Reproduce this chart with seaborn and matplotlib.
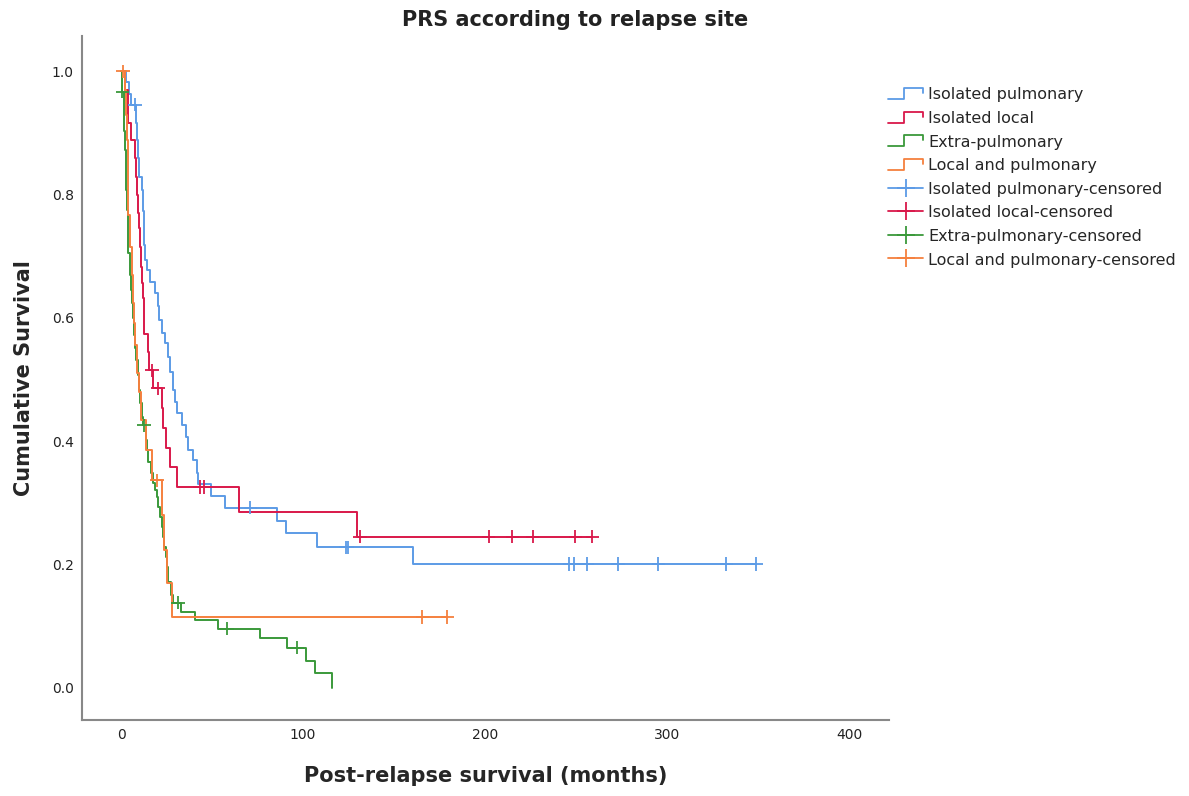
"""
Curvas Kaplan-Meier: PRS segun sitio de recaida
"""

import numpy as np
import pandas as pd
import matplotlib
matplotlib.use('Agg')
import matplotlib.pyplot as plt
import seaborn as sns
from matplotlib.lines import Line2D
from matplotlib.legend_handler import HandlerBase

# Grupos y colores
grupos = ['Isolated pulmonary', 'Isolated local', 'Extra-pulmonary', 'Local and pulmonary']
colores = ['#5c9be6', '#d9184a', '#3a993a', '#f5803e']

# Tiempos de evento (meses) y supervivencia acumulada despues de cada evento
pulm_t = [2.7, 4.4, 5.5, 8.2, 8.8, 9.3, 9.9, 11.5, 12.1, 12.4, 12.6, 13.2, 14.3, 15.9,
          18.7, 20.3, 20.6, 22.5, 24.2, 25.8, 26.9, 28.6, 29.7, 30.8, 33.5, 35.7, 36.8,
          39.6, 41.8, 42.3, 49.5, 57.1, 85.7, 90.7, 107.7, 160.4]
pulm_s = [0.982, 0.964, 0.946, 0.917, 0.888, 0.859, 0.828, 0.807, 0.774, 0.746, 0.718,
          0.694, 0.678, 0.658, 0.640, 0.620, 0.596, 0.575, 0.559, 0.536, 0.512, 0.483,
          0.463, 0.446, 0.426, 0.407, 0.386, 0.370, 0.349, 0.331, 0.311, 0.292, 0.271,
          0.251, 0.228, 0.201]
pulm_cens = [7.7, 70.9, 123.5, 124.5, 246.2, 248.9, 256.0, 273.0, 295.0, 332.4, 348.9]

local_t = [2.2, 3.8, 4.1, 5.5, 7.7, 8.2, 8.8, 9.1, 9.9, 10.4, 11.0, 11.5, 12.1, 12.6,
           12.9, 14.8, 15.4, 17.6, 22.5, 23.1, 24.7, 26.9, 30.8, 64.8, 129.7]
local_s = [0.969, 0.943, 0.916, 0.888, 0.859, 0.828, 0.799, 0.771, 0.746, 0.715, 0.682,
           0.656, 0.632, 0.601, 0.574, 0.545, 0.515, 0.486, 0.454, 0.421, 0.389, 0.358,
           0.326, 0.285, 0.245]
local_cens = [17.0, 20.3, 43.4, 45.6, 131.3, 202.0, 215.0, 226.0, 249.5, 258.8]

extra_t = [0.3, 1.6, 1.9, 2.2, 2.7, 3.0, 3.3, 3.8, 4.1, 4.9, 5.5, 6.0, 6.6, 7.1, 7.7,
           8.2, 9.3, 9.9, 10.4, 11.5, 12.1, 13.7, 14.3, 14.8, 16.5, 17.6, 18.7, 19.8,
           20.3, 21.4, 22.5, 23.1, 23.6, 24.7, 25.3, 25.8, 27.5, 28.6, 33.0, 40.7, 53.3,
           76.4, 91.2, 101.6, 106.6, 115.9]
extra_s = [0.967, 0.937, 0.904, 0.872, 0.840, 0.807, 0.775, 0.742, 0.705, 0.669, 0.645,
           0.624, 0.600, 0.572, 0.551, 0.532, 0.507, 0.483, 0.462, 0.439, 0.426, 0.402,
           0.386, 0.366, 0.348, 0.332, 0.321, 0.310, 0.293, 0.277, 0.261, 0.245, 0.229,
           0.212, 0.196, 0.172, 0.151, 0.138, 0.123, 0.110, 0.096, 0.081, 0.065, 0.044,
           0.024, 0.0]
extra_cens = [0.6, 12.6, 31.3, 58.2, 96.7]

lp_t = [2.2, 2.7, 3.3, 3.6, 3.8, 4.1, 4.9, 6.0, 6.6, 7.1, 7.7, 8.8, 9.9, 11.0, 13.7,
        17.0, 22.5, 23.6, 25.3, 28.0]
lp_s = [0.969, 0.929, 0.888, 0.848, 0.807, 0.767, 0.715, 0.670, 0.624, 0.592, 0.556,
        0.511, 0.480, 0.434, 0.386, 0.337, 0.280, 0.224, 0.170, 0.115]
lp_cens = [1.1, 19.8, 165.4, 179.1]

eventos = {
    'Isolated pulmonary': (pulm_t, pulm_s, pulm_cens),
    'Isolated local': (local_t, local_s, local_cens),
    'Extra-pulmonary': (extra_t, extra_s, extra_cens),
    'Local and pulmonary': (lp_t, lp_s, lp_cens),
}

# Armar tablas largas para seaborn
filas_linea = []
filas_cens = []
for g in grupos:
    t, s, c = eventos[g]
    tt = [0.0] + list(t)
    ss = [1.0] + list(s)
    if max(c) > tt[-1]:
        tt.append(max(c))
        ss.append(ss[-1])
    for a, b in zip(tt, ss):
        filas_linea.append({'t': a, 'S': b, 'grupo': g})
    for ct in c:
        idx = np.searchsorted(np.array(tt), ct, side='right') - 1
        filas_cens.append({'t': ct, 'S': ss[idx], 'grupo': g})

df_linea = pd.DataFrame(filas_linea)
df_cens = pd.DataFrame(filas_cens)

sns.set_style('white')
plt.rcParams['font.family'] = ['DejaVu Sans']

fig = plt.figure(figsize=(11.89, 7.96), dpi=100)
ax = fig.add_axes([0.069, 0.0955, 0.679, 0.859])

paleta = dict(zip(grupos, colores))
sns.lineplot(data=df_linea, x='t', y='S', hue='grupo', hue_order=grupos, palette=paleta,
             estimator=None, sort=False, drawstyle='steps-post', linewidth=1.4,
             legend=False, ax=ax)
sns.scatterplot(data=df_cens, x='t', y='S', hue='grupo', hue_order=grupos, palette=paleta,
                marker='+', s=90, linewidth=1.3, legend=False, ax=ax, zorder=3)

ax.set_xlim(-21.4, 422)
ax.set_ylim(-0.052, 1.057)
ax.set_xticks([0, 100, 200, 300, 400])
ax.set_yticks([0.0, 0.2, 0.4, 0.6, 0.8, 1.0])
ax.set_yticklabels(['0.0', '0.2', '0.4', '0.6', '0.8', '1.0'])
ax.tick_params(length=0, labelsize=10, colors='#222222', pad=6)

for lado in ['top', 'right']:
    ax.spines[lado].set_visible(False)
for lado in ['left', 'bottom']:
    ax.spines[lado].set_color('#888888')
    ax.spines[lado].set_linewidth(1.5)

# Titulo centrado sobre toda la figura (incluye la leyenda)
fig.text(0.484, 0.975, 'PRS according to relapse site', fontsize=15, fontweight='bold',
         ha='center', va='center', color='#222222')
ax.set_xlabel('Post-relapse survival (months)', fontsize=15, fontweight='bold', labelpad=17)
ax.set_ylabel('Cumulative Survival', fontsize=15, fontweight='bold', labelpad=13)


# Icono escalonado para la leyenda
class HandlerEscalon(HandlerBase):
    def create_artists(self, legend, orig_handle, xdescent, ydescent, width, height,
                       fontsize, trans):
        x0, y0 = -xdescent, -ydescent
        xs = [x0, x0 + width * 0.45, x0 + width * 0.45, x0 + width, x0 + width]
        ys = [y0 + height * 0.15, y0 + height * 0.15, y0 + height * 0.9,
              y0 + height * 0.9, y0 + height * 0.55]
        linea = Line2D(xs, ys, color=orig_handle.get_color(), linewidth=1.3,
                       transform=trans)
        return [linea]


manejadores = []
etiquetas = []
mapa = {}
for g, col in zip(grupos, colores):
    h = Line2D([], [], color=col, linewidth=1.3)
    manejadores.append(h)
    etiquetas.append(g)
    mapa[h] = HandlerEscalon()
for g, col in zip(grupos, colores):
    manejadores.append(Line2D([], [], color=col, linewidth=1.3, marker='+',
                              markersize=13, markeredgewidth=1.3))
    etiquetas.append(g + '-censored')

fig.legend(manejadores, etiquetas, handler_map=mapa, loc='upper left',
           bbox_to_anchor=(0.735, 0.909), frameon=False, fontsize=11.5,
           handlelength=2.2, handleheight=1.0, handletextpad=0.3, labelspacing=0.5,
           numpoints=1)

plt.savefig('out.png', dpi=100, facecolor='white')
